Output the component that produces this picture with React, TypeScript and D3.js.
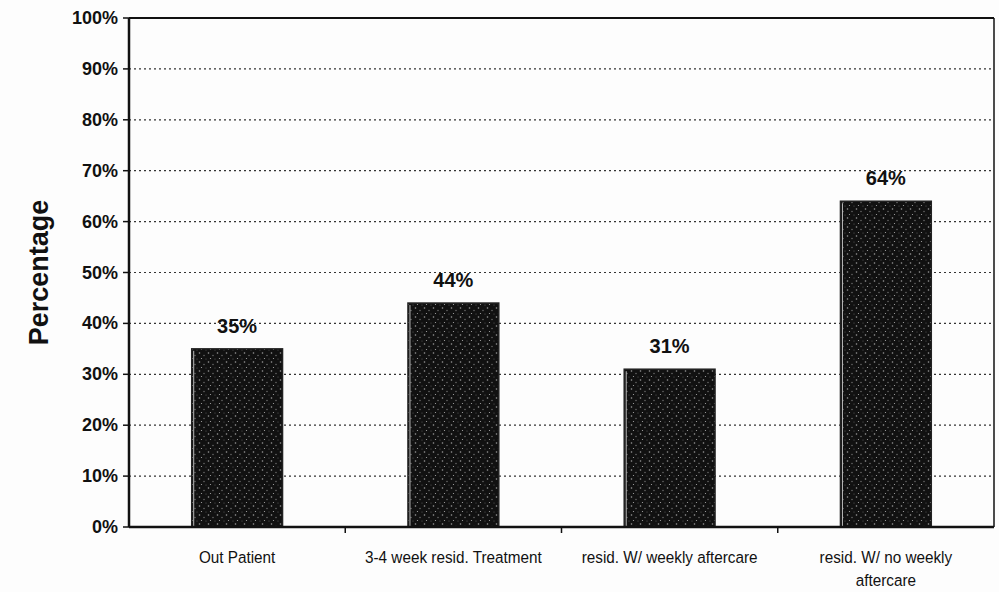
import React from "react";
import * as d3 from "d3";

const categories: string[][] = [
  ["Out Patient"],
  ["3-4 week resid. Treatment"],
  ["resid. W/ weekly aftercare"],
  ["resid. W/ no weekly", "aftercare"],
];
const values: number[] = [35, 44, 31, 64];
const yTicks: number[] = [0, 10, 20, 30, 40, 50, 60, 70, 80, 90, 100];
const yTitle = "Percentage";

const W = 999;
const H = 592;
const M = { left: 129, right: 994, top: 18, bottom: 527 };

export default function App() {
  const x = d3
    .scaleBand<number>()
    .domain(d3.range(categories.length))
    .range([M.left, M.right])
    .paddingInner(0.58)
    .paddingOuter(0.29);
  const xb = d3
    .scaleBand<number>()
    .domain(d3.range(categories.length))
    .range([M.left, M.right]);
  const y = d3.scaleLinear().domain([0, 100]).range([M.bottom, M.top]);
  const font = "'Liberation Sans', Arial, sans-serif";
  const sx = 0.9;

  return (
    <div
      style={{
        position: "fixed",
        left: 0,
        top: 0,
        width: W,
        height: H,
        background: "#fdfdfd",
        overflow: "hidden",
      }}
    >
      <svg width={W} height={H} style={{ display: "block" }}>
        <defs>
          <pattern id="speck" width="9" height="9" patternUnits="userSpaceOnUse">
            <rect width="9" height="9" fill="#111" />
            <circle cx="1.5" cy="2" r="0.8" fill="#9a9a9a" />
            <circle cx="6" cy="4.5" r="0.7" fill="#777" />
            <circle cx="3.5" cy="7.5" r="0.6" fill="#aaa" />
            <circle cx="8" cy="8" r="0.5" fill="#666" />
          </pattern>
        </defs>
        {yTicks
          .filter((t) => t > 0 && t < 100)
          .map((t) => (
            <line
              key={"g" + t}
              x1={M.left}
              x2={M.right}
              y1={y(t)}
              y2={y(t)}
              stroke="#333"
              strokeWidth={1.2}
              strokeDasharray="2,3"
            />
          ))}
        <line x1={M.left} x2={M.right} y1={M.top} y2={M.top} stroke="#111" strokeWidth={2} />
        <line x1={M.right} x2={M.right} y1={M.top} y2={M.bottom} stroke="#111" strokeWidth={1.5} />
        {values.map((v, i) => (
          <g key={"b" + i}>
            <rect
              x={x(i)!}
              y={y(v)}
              width={x.bandwidth()}
              height={y(0) - y(v)}
              fill="url(#speck)"
              stroke="#222"
              strokeWidth={1.5}
            />
            <line
              x1={x(i)! + 2}
              x2={x(i)! + 2}
              y1={y(v) + 2}
              y2={y(0)}
              stroke="#bbb"
              strokeWidth={1}
            />
            <text
              x={x(i)! + x.bandwidth() / 2}
              y={y(v) - 16}
              textAnchor="middle"
              fontFamily={font}
              fontWeight="bold"
              fontSize={20}
              fill="#111"
            >
              {v}%
            </text>
          </g>
        ))}
        <line x1={M.left} x2={M.left} y1={M.top} y2={M.bottom} stroke="#111" strokeWidth={2.5} />
        <line x1={M.left} x2={M.right} y1={M.bottom} y2={M.bottom} stroke="#111" strokeWidth={2.5} />
        {yTicks.map((t) => (
          <g key={"t" + t}>
            <line x1={M.left - 6} x2={M.left} y1={y(t)} y2={y(t)} stroke="#111" strokeWidth={1.5} />
            <text
              x={M.left - 11}
              y={y(t) + 6}
              textAnchor="end"
              fontFamily={font}
              fontWeight="bold"
              fontSize={18}
              fill="#111"
            >
              {t}%
            </text>
          </g>
        ))}
        {categories.map((c, i) =>
          i > 0 ? (
            <line
              key={"xt" + i}
              x1={xb(i)!}
              x2={xb(i)!}
              y1={M.bottom}
              y2={M.bottom + 6}
              stroke="#111"
              strokeWidth={1.5}
            />
          ) : null
        )}
        {categories.map((lines, i) => {
          const cx = xb(i)! + xb.bandwidth() / 2;
          return (
            <text
              key={"c" + i}
              transform={`translate(${cx},0) scale(${sx},1)`}
              textAnchor="middle"
              fontFamily={font}
              fontSize={17}
              fill="#111"
            >
              {lines.map((l, j) => (
                <tspan key={j} x={0} y={563 + j * 23}>
                  {l}
                </tspan>
              ))}
            </text>
          );
        })}
        <text
          transform={`translate(48,${(M.top + M.bottom) / 2}) rotate(-90)`}
          textAnchor="middle"
          fontFamily={font}
          fontWeight="bold"
          fontSize={27}
          fill="#111"
        >
          {yTitle}
        </text>
      </svg>
    </div>
  );
}
